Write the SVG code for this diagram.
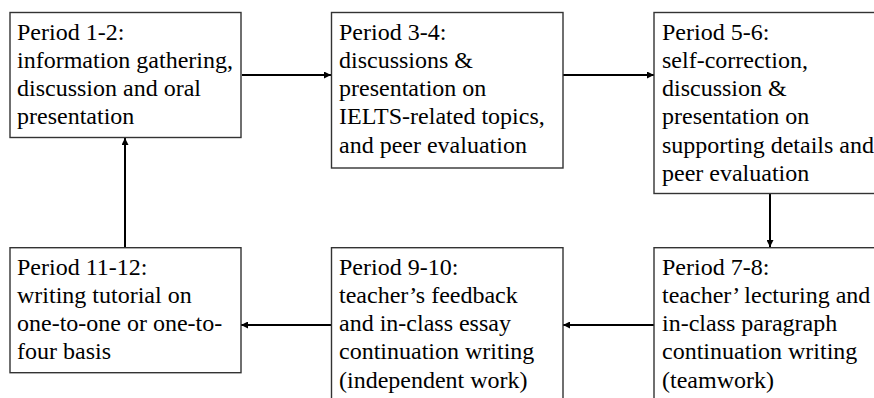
<svg xmlns="http://www.w3.org/2000/svg" width="874" height="398" viewBox="0 0 874 398">
<defs>
<style>
.box{fill:#fff;stroke:#333;stroke-width:1.4}
.t{font-family:'Liberation Serif','Times New Roman',serif;font-size:24px;fill:#000}
.c{stroke:#000;stroke-width:2;fill:none}
</style>
<marker id="ah" viewBox="0 0 10 10" refX="10" refY="5" markerWidth="3.5" markerHeight="3.5" orient="auto" markerUnits="strokeWidth">
<path d="M0,0 L10,5 L0,10 Z" fill="#000"/>
</marker>
</defs>
<rect width="874" height="398" fill="#fff"/>
<g id="connectors">
<line class="c" x1="242" y1="75" x2="331" y2="75" marker-end="url(#ah)"/>
<line class="c" x1="563" y1="75" x2="654" y2="75" marker-end="url(#ah)"/>
<line class="c" x1="770" y1="194" x2="770" y2="247" marker-end="url(#ah)"/>
<line class="c" x1="654" y1="325" x2="563" y2="325" marker-end="url(#ah)"/>
<line class="c" x1="331" y1="325" x2="241" y2="325" marker-end="url(#ah)"/>
<line class="c" x1="125" y1="248" x2="125" y2="138" marker-end="url(#ah)"/>
</g>
<g id="n1">
<rect class="box" x="10" y="12.5" width="231" height="125"/>
<text class="t" x="17" y="39.5">Period 1-2:<tspan x="17" dy="28.3">information gathering,</tspan><tspan x="17" dy="28.3">discussion and oral</tspan><tspan x="17" dy="28.3">presentation</tspan></text>
</g>
<g id="n2">
<rect class="box" x="331.5" y="12.5" width="231.5" height="155.5"/>
<text class="t" x="339" y="39.5">Period 3-4:<tspan x="339" dy="28.3">discussions &amp;</tspan><tspan x="339" dy="28.3">presentation on</tspan><tspan x="339" dy="28.3">IELTS-related topics,</tspan><tspan x="339" dy="28.3">and peer evaluation</tspan></text>
</g>
<g id="n3">
<rect class="box" x="654" y="12.5" width="240" height="181"/>
<text class="t" x="662" y="39.5">Period 5-6:<tspan x="662" dy="28.3">self-correction,</tspan><tspan x="662" dy="28.3">discussion &amp;</tspan><tspan x="662" dy="28.3">presentation on</tspan><tspan x="662" dy="28.3">supporting details and</tspan><tspan x="662" dy="28.3">peer evaluation</tspan></text>
</g>
<g id="n4">
<rect class="box" x="10" y="247.7" width="231" height="125"/>
<text class="t" x="17" y="274.5">Period 11-12:<tspan x="17" dy="28.3">writing tutorial on</tspan><tspan x="17" dy="28.3">one-to-one or one-to-</tspan><tspan x="17" dy="28.3">four basis</tspan></text>
</g>
<g id="n5">
<rect class="box" x="331.5" y="247.7" width="231.5" height="170"/>
<text class="t" x="339" y="274.5">Period 9-10:<tspan x="339" dy="28.3">teacher’s feedback</tspan><tspan x="339" dy="28.3">and in-class essay</tspan><tspan x="339" dy="28.3">continuation writing</tspan><tspan x="339" dy="28.3">(independent work)</tspan></text>
</g>
<g id="n6">
<rect class="box" x="654" y="247.7" width="240" height="170"/>
<text class="t" x="662" y="274.5">Period 7-8:<tspan x="662" dy="28.3">teacher’ lecturing and</tspan><tspan x="662" dy="28.3">in-class paragraph</tspan><tspan x="662" dy="28.3">continuation writing</tspan><tspan x="662" dy="28.3">(teamwork)</tspan></text>
</g>
</svg>
